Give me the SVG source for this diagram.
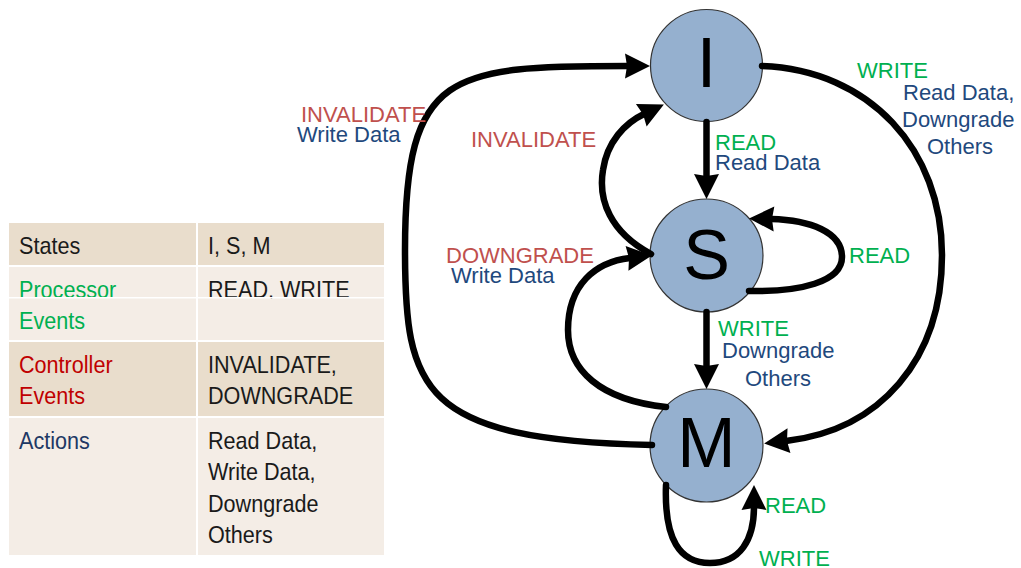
<svg xmlns="http://www.w3.org/2000/svg" width="1021" height="568" viewBox="0 0 1021 568">
  <style>
    .cellA { fill: #E9DDCC; }
    .cellB { fill: #F4EDE6; }
    .tbl { font-family: "Liberation Sans", Arial, sans-serif; font-size: 24px; fill: #1a1a1a; }
    .lbl { font-family: "Liberation Sans", Arial, sans-serif; font-size: 22px; }
    .green { fill: #00B050; }
    .red { fill: #C0504D; }
    .blue { fill: #1F497D; }
    .state { fill: #95B0CF; stroke: #333333; stroke-width: 1.2; }
    .big { font-family: "Liberation Sans", Arial, sans-serif; font-size: 70px; fill: #000000; text-anchor: middle; }
    .edge { fill: none; stroke: #000000; stroke-width: 6.5; stroke-linecap: round; marker-end: url(#arrow); }
  </style>
  <defs>
    <marker id="arrow" markerUnits="userSpaceOnUse" markerWidth="40" markerHeight="40" viewBox="-10 -20 40 40" refX="0" refY="0" orient="auto" overflow="visible">
      <path d="M22,0 L-3,-12.5 L-1,0 L-3,12.5 Z" fill="#000000"/>
    </marker>
  </defs>

  <rect width="1021" height="568" fill="#ffffff"/>

  <!-- legend table -->
  <g id="legend-table">
    <rect class="cellA" x="9" y="223" width="187" height="42"/>
    <rect class="cellA" x="198" y="223" width="186" height="42"/>
    <rect class="cellB" x="9" y="267" width="187" height="30"/>
    <rect class="cellB" x="198" y="267" width="186" height="30"/>
    <rect class="cellA" x="9" y="342" width="187" height="74"/>
    <rect class="cellA" x="198" y="342" width="186" height="74"/>
    <rect class="cellB" x="9" y="418" width="187" height="137"/>
    <rect class="cellB" x="198" y="418" width="186" height="137"/>
    <g transform="scale(0.9 1)">
      <text class="tbl" x="21.1" y="298" style="fill:#00B050">Processor</text>
      <text class="tbl" x="231.1" y="298">READ, WRITE</text>
      <text class="tbl" x="21.1" y="254">States</text>
      <text class="tbl" x="231.1" y="254">I, S, M</text>
    </g>
    <!-- second half of the processor-events row sits over the first line -->
    <rect x="9" y="297" width="375" height="1.5" fill="#ffffff"/>
    <rect class="cellB" x="9" y="298.5" width="187" height="41.5"/>
    <rect class="cellB" x="198" y="298.5" width="186" height="41.5"/>
    <g transform="scale(0.9 1)">
      <text class="tbl" x="21.1" y="329" style="fill:#00B050">Events</text>
      <text class="tbl" x="21.1" y="373" style="fill:#C00000">Controller</text>
      <text class="tbl" x="21.1" y="404" style="fill:#C00000">Events</text>
      <text class="tbl" x="231.1" y="373">INVALIDATE,</text>
      <text class="tbl" x="231.1" y="404">DOWNGRADE</text>
      <text class="tbl" x="21.1" y="449" style="fill:#203864">Actions</text>
      <text class="tbl" x="231.1" y="449">Read Data,</text>
      <text class="tbl" x="231.1" y="480">Write Data,</text>
      <text class="tbl" x="231.1" y="512">Downgrade</text>
      <text class="tbl" x="231.1" y="543">Others</text>
    </g>
  </g>

  <!-- states -->
  <g id="state-I">
    <circle class="state" cx="706.5" cy="65.5" r="56"/>
    <text class="big" x="706.5" y="87">I</text>
  </g>
  <g id="state-S">
    <circle class="state" cx="706.5" cy="255.5" r="56.5"/>
    <text class="big" x="706.5" y="279">S</text>
  </g>
  <g id="state-M">
    <circle class="state" cx="706.5" cy="445.5" r="56.5"/>
    <text class="big" x="706.5" y="467">M</text>
  </g>

  <!-- transitions -->
  <g id="connectors">
    <!-- I -> S : READ -->
    <path class="edge" d="M706.5,122 L706.5,177"/>
    <!-- S -> M : WRITE -->
    <path class="edge" d="M706.5,312 L706.5,367"/>
    <!-- S -> I : INVALIDATE -->
    <path class="edge" d="M651,254 C610,232 598,200 603,170 C607,142 625,123 644,114"/>
    <!-- M -> S : DOWNGRADE -->
    <path class="edge" d="M666,407 C600,400 568,370 568,330 C568,285 595,262 630,258"/>
    <!-- M -> I : INVALIDATE -->
    <path class="edge" d="M652,445 C420,440 405,390 405,250 C405,70 450,66 628,66"/>
    <!-- I -> M : WRITE -->
    <path class="edge" d="M762,66 C870,70 942,150 942,255 C942,360 880,430 786,441"/>
    <!-- S self loop : READ -->
    <path class="edge" d="M749,291 C800,292 842,282 842,257 C842,232 810,220 771,219"/>
    <!-- M self loop : READ / WRITE -->
    <path class="edge" d="M666,485 C664,540 680,563 710,563 C740,563 754,540 754,507"/>
  </g>

  <!-- transition labels -->
  <g id="edge-labels" class="lbl">
    <text class="lbl red" x="301" y="122">INVALIDATE</text>
    <text class="lbl blue" x="297" y="142">Write Data</text>
    <text class="lbl red" x="471" y="147">INVALIDATE</text>
    <text class="lbl red" x="446" y="263">DOWNGRADE</text>
    <text class="lbl blue" x="451" y="283">Write Data</text>
    <text class="lbl green" x="715" y="150">READ</text>
    <text class="lbl blue" x="715" y="170">Read Data</text>
    <text class="lbl green" x="857" y="78">WRITE</text>
    <text class="lbl blue" x="903" y="99.5">Read Data,</text>
    <text class="lbl blue" x="902" y="127">Downgrade</text>
    <text class="lbl blue" x="927" y="153.5">Others</text>
    <text class="lbl green" x="849" y="263">READ</text>
    <text class="lbl green" x="718" y="336">WRITE</text>
    <text class="lbl blue" x="722" y="358">Downgrade</text>
    <text class="lbl blue" x="745" y="386">Others</text>
    <text class="lbl green" x="765" y="513">READ</text>
    <text class="lbl green" x="759" y="566">WRITE</text>
  </g>
</svg>
